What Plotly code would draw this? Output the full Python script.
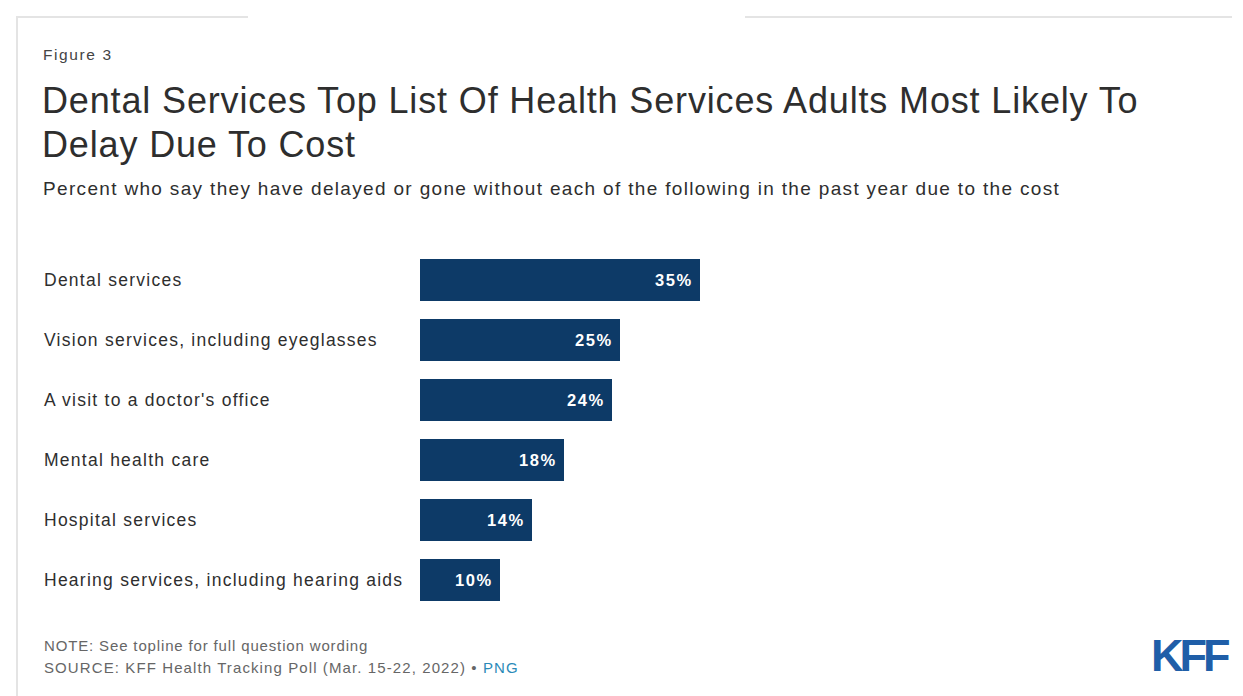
import plotly.graph_objects as go

# Survey results: share of adults who delayed or skipped care due to cost
services = [
    "Dental services",
    "Vision services, including eyeglasses",
    "A visit to a doctor's office",
    "Mental health care",
    "Hospital services",
    "Hearing services, including hearing aids",
]
percent = [35, 25, 24, 18, 14, 10]

W, H = 1243, 696
ML, MR, MT, MB = 420, 23, 250, 86
PW, PH = W - ML - MR, H - MT - MB

BAR = "#0d3a67"
TXT = "#2e2e2e"
FONT = "Liberation Sans, Arial, sans-serif"


def px(x):
    return (x - ML) / PW


def py(y):
    return (H - MB - y) / PH


def spaced(text, ls):
    return f"<span style='letter-spacing:{ls}px'>{text}</span>"


fig = go.Figure(
    go.Bar(
        x=percent,
        y=services,
        orientation="h",
        marker=dict(color=BAR, line=dict(width=0)),
        width=0.7,
        hoverinfo="skip",
    )
)

annotations = []
# Category labels, left aligned
for s in services:
    annotations.append(dict(
        x=px(42), y=s, xref="paper", yref="y", text=spaced(s, 1.25),
        showarrow=False, xanchor="left", yanchor="middle",
        font=dict(size=17.5, color=TXT, family=FONT),
    ))
# Value labels inside the bar ends
for s, v in zip(services, percent):
    annotations.append(dict(
        x=v, y=s, xref="x", yref="y", text=spaced(f"<b>{v}%</b>", 1.6),
        showarrow=False, xanchor="right", yanchor="middle", xshift=-5,
        font=dict(size=16.5, color="white", family=FONT),
    ))

n_fixed = len(annotations)
annotations += [
    dict(x=px(41), y=py(55), text=spaced("Figure 3", 1.6), font=dict(size=15.5, color="#444", family=FONT)),
    dict(x=px(40), y=py(101),
         text=spaced("Dental Services Top List Of Health Services Adults Most Likely To", 0.85),
         font=dict(size=36, color=TXT, family=FONT)),
    dict(x=px(40), y=py(145), text=spaced("Delay Due To Cost", 0.85),
         font=dict(size=36, color=TXT, family=FONT)),
    dict(x=px(41), y=py(189),
         text=spaced("Percent who say they have delayed or gone without each of the following in the past year due to the cost", 1.33),
         font=dict(size=19, color=TXT, family=FONT)),
    dict(x=px(42), y=py(645), text=spaced("NOTE: See topline for full question wording", 0.85),
         font=dict(size=15, color="#666", family=FONT)),
    dict(x=px(42), y=py(667),
         text=spaced("SOURCE: KFF Health Tracking Poll (Mar. 15-22, 2022) • <span style='color:#2a8ab8'>PNG</span>", 1.1),
         font=dict(size=15, color="#666", family=FONT)),
    dict(x=px(1190), y=py(655), xanchor="center", text=spaced("<b>KFF</b>", -4),
         font=dict(size=45, color="#1f5ea8", family=FONT)),
]
for a in annotations[n_fixed:]:
    a.setdefault("xref", "paper")
    a.setdefault("yref", "paper")
    a.setdefault("showarrow", False)
    a.setdefault("xanchor", "left")
    a.setdefault("yanchor", "middle")

# Light frame around the graphic
frame = dict(type="line", xref="paper", yref="paper", line=dict(color="#e4e4e4", width=2))
shapes = [
    dict(frame, x0=px(16), x1=px(248), y0=py(17), y1=py(17)),
    dict(frame, x0=px(745), x1=px(1232), y0=py(17), y1=py(17)),
    dict(frame, x0=px(17), x1=px(17), y0=py(17), y1=py(696)),
]

fig.update_layout(
    width=W, height=H,
    margin=dict(l=ML, r=MR, t=MT, b=MB),
    paper_bgcolor="white", plot_bgcolor="white",
    showlegend=False,
    annotations=annotations,
    shapes=shapes,
    xaxis=dict(range=[0, 100], visible=False, fixedrange=True),
    yaxis=dict(autorange="reversed", showticklabels=False, showgrid=False,
               zeroline=False, fixedrange=True),
    bargap=0.3,
    font=dict(family=FONT),
)

fig.write_html("out.html", config={"displayModeBar": False})
